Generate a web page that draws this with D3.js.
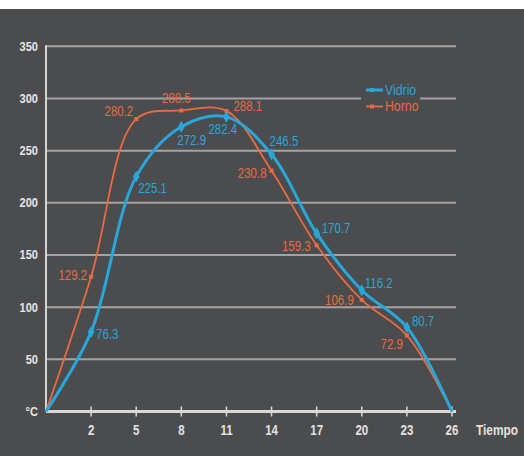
<!DOCTYPE html>
<html><head><meta charset="utf-8">
<script src="https://cdn.jsdelivr.net/npm/d3@7"></script>
<style>
html,body{margin:0;padding:0;background:#fff;}
svg{display:block;}
</style></head>
<body>
<svg id="c" width="524" height="456"></svg>
<script>
// ---- data ----
const tiempo = [-1, 2, 5, 8, 11, 14, 17, 20, 23, 26];
const vidrio = [0, 76.3, 225.1, 272.9, 282.4, 246.5, 170.7, 116.2, 80.7, 0];
const horno  = [0, 129.2, 280.2, 288.5, 288.1, 230.8, 159.3, 106.9, 72.9, 0];
const xTickValues = [2, 5, 8, 11, 14, 17, 20, 23, 26];
const yTickValues = [0, 50, 100, 150, 200, 250, 300, 350];
const yZeroLabel = "°C";
const xAxisTitle = "Tiempo";
const seriesNames = ["Vidrio", "Horno"];

// ---- layout ----
const svg = d3.select("#c");
const W = 524, H = 456;
const BG = "#4b4c4e", BLUE = "#29a6da", ORANGE = "#ea6a42";
const FONT = "'Liberation Sans','Arimo',Arial,sans-serif";
const SX = 0.82; // narrow face

svg.append("rect").attr("width", W).attr("height", H).attr("fill", BG);
svg.append("rect").attr("width", W).attr("height", 9).attr("fill", "#ffffff");

const x = d3.scaleLinear().domain([-1, 26]).range([46, 452]);
const y = d3.scaleLinear().domain([0, 350]).range([411.5, 46.3]);
const xEnd = 456;

function txt(g, tx, ty, s, opt) {
  return g.append("text")
    .attr("transform", `translate(${tx},${ty}) scale(${SX},1)`)
    .attr("text-anchor", opt.anchor || "start")
    .attr("dominant-baseline", "central")
    .attr("fill", opt.fill).attr("font-family", FONT)
    .attr("font-weight", opt.bold ? "bold" : "normal")
    .attr("font-size", opt.size)
    .text(s);
}

// gridlines
svg.append("g").selectAll("line").data(yTickValues.filter(v => v > 0)).join("line")
  .attr("x1", x(-1)).attr("x2", xEnd)
  .attr("y1", d => y(d)).attr("y2", d => y(d))
  .attr("stroke", "#a3a3a5").attr("stroke-width", 2);

// y axis line
svg.append("line").attr("x1", x(-1)).attr("x2", x(-1)).attr("y1", y(350) - 1).attr("y2", y(0))
  .attr("stroke", "#d5d5d5").attr("stroke-width", 2);

// x axis
const xAxis = d3.axisBottom(x).tickValues(xTickValues).tickSize(0).tickPadding(0);
const gx = svg.append("g").attr("transform", `translate(0,${y(0)})`).call(xAxis);
gx.select(".domain").remove();
gx.selectAll(".tick text").remove();
svg.append("line").attr("x1", x(-1)).attr("x2", xEnd).attr("y1", y(0)).attr("y2", y(0))
  .attr("stroke", "#d8d8d8").attr("stroke-width", 3);
svg.append("g").selectAll("line").data(xTickValues).join("line")
  .attr("x1", d => x(d)).attr("x2", d => x(d))
  .attr("y1", y(0) - 5).attr("y2", y(0) + 5)
  .attr("stroke", "#d8d8d8").attr("stroke-width", 1.5);
const gxt = svg.append("g");
xTickValues.forEach(v => txt(gxt, x(v), y(0) + 19, v, {anchor: "middle", fill: "#e2e2e2", bold: true, size: 14}));
txt(svg, 476, y(0) + 19, xAxisTitle, {fill: "#e2e2e2", bold: true, size: 14.5});

// y tick labels
const gyt = svg.append("g");
yTickValues.forEach(v => txt(gyt, 38, y(v), v === 0 ? yZeroLabel : v, {anchor: "end", fill: "#e6e6e6", bold: true, size: 13.5}));

// legend (covers gridline)
svg.append("rect").attr("x", 361).attr("y", 82).attr("width", 59).attr("height", 32).attr("fill", BG);
const leg = [{name: seriesNames[0], color: BLUE, w: 3, yy: 90}, {name: seriesNames[1], color: ORANGE, w: 1.8, yy: 106.5}];
leg.forEach(l => {
  svg.append("line").attr("x1", 366).attr("x2", 383).attr("y1", l.yy).attr("y2", l.yy)
    .attr("stroke", l.color).attr("stroke-width", l.w);
  svg.append("rect").attr("x", 370).attr("y", l.yy - 2).attr("width", 4).attr("height", 4).attr("fill", l.color);
  txt(svg, 385, l.yy, l.name, {fill: l.color, size: 15});
});

// series
const line = d3.line().x(d => x(d[0])).y(d => y(d[1])).curve(d3.curveCatmullRom.alpha(0.5));
const hornoPts = tiempo.map((t, i) => [t, horno[i]]);
const vidrioPts = tiempo.map((t, i) => [t, vidrio[i]]);

svg.append("path").datum(hornoPts).attr("d", line).attr("fill", "none")
  .attr("stroke", ORANGE).attr("stroke-width", 1.8);
svg.append("path").datum(vidrioPts).attr("d", line).attr("fill", "none")
  .attr("stroke", BLUE).attr("stroke-width", 3);

// markers
const inner = (pts) => pts.slice(1, pts.length - 1);
svg.append("g").selectAll("rect").data(inner(hornoPts)).join("rect")
  .attr("x", d => x(d[0]) - 2).attr("y", d => y(d[1]) - 2).attr("width", 4).attr("height", 4)
  .attr("fill", ORANGE);
svg.append("g").selectAll("path").data(inner(vidrioPts)).join("path")
  .attr("d", d3.symbol(d3.symbolDiamond, 40))
  .attr("transform", d => `translate(${x(d[0])},${y(d[1])})`)
  .attr("fill", BLUE);

// value labels (offsets relative to markers)
const hornoOff = [[-4,-2,"end"],[-3,-8,"end"],[-5,-12,"middle"],[7,-5,"start"],[-5,2,"end"],[-6,1,"end"],[-8,0,"end"],[-4,9,"end"]];
const vidrioOff = [[5,2,"start"],[2,11,"start"],[-4,13,"start"],[-18,12,"start"],[-2,-13,"start"],[5,-5,"start"],[3,-7,"start"],[5,-6,"start"]];
function labels(pts, off, color) {
  const g = svg.append("g");
  inner(pts).forEach((d, i) => {
    txt(g, x(d[0]) + off[i][0], y(d[1]) + off[i][1], d[1].toFixed(1), {anchor: off[i][2], fill: color, size: 14});
  });
}
labels(hornoPts, hornoOff, ORANGE);
labels(vidrioPts, vidrioOff, BLUE);
</script>
</body></html>
